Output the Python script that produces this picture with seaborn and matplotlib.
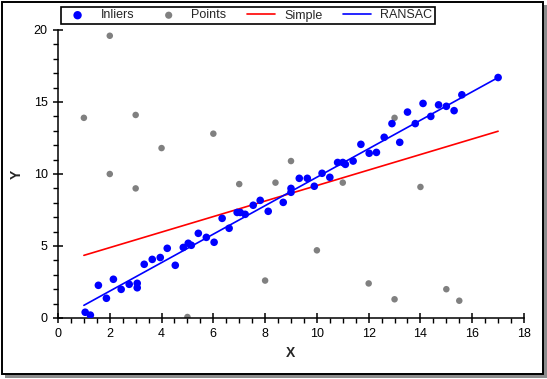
import numpy as np
import pandas as pd
import matplotlib
matplotlib.use("Agg")
import matplotlib.pyplot as plt
from matplotlib.patches import Rectangle
from matplotlib.ticker import MultipleLocator
import seaborn as sns

# data
inlier_x = [1.05, 1.25, 1.56, 1.87, 2.14, 2.44, 2.75, 3.06, 3.06, 3.33, 3.64, 3.95,
            4.22, 4.53, 4.84, 5.03, 5.15, 5.42, 5.73, 6.03, 6.34, 6.61, 6.92, 7.04,
            7.23, 7.54, 7.81, 8.12, 8.7, 9.0, 9.0, 9.32, 9.63, 9.9, 10.2, 10.5,
            10.8, 11.0, 11.1, 11.4, 11.7, 12.02, 12.3, 12.6, 12.9, 13.2, 13.5, 13.8,
            14.1, 14.4, 14.7, 15.0, 15.3, 15.6, 17.0]
inlier_y = [0.4, 0.2, 2.27, 1.37, 2.69, 1.99, 2.34, 2.41, 2.1, 3.73, 4.07, 4.2,
            4.84, 3.66, 4.9, 5.19, 5.05, 5.88, 5.6, 5.26, 6.92, 6.23, 7.33, 7.33,
            7.2, 7.83, 8.17, 7.41, 8.03, 9.0, 8.73, 9.7, 9.7, 9.15, 10.05, 9.77,
            10.8, 10.8, 10.67, 10.9, 12.06, 11.44, 11.5, 12.55, 13.5, 12.2, 14.3, 13.5,
            14.9, 14.0, 14.8, 14.7, 14.4, 15.5, 16.7]
outlier_x = [1, 2, 2, 3, 3, 4, 5, 6, 7, 8, 8.4, 9, 10, 11, 12, 13, 13, 14, 15, 15.5]
outlier_y = [13.9, 19.6, 10.0, 14.1, 9.0, 11.8, 0.07, 12.8, 9.3, 2.6, 9.4, 10.9,
             4.7, 9.4, 2.4, 13.9, 1.3, 9.1, 2.0, 1.2]
line_x = [1, 17]
simple_y = [4.35, 12.97]
ransac_y = [0.88, 16.7]

sns.set_style("ticks")
plt.rcParams["font.family"] = ["Liberation Sans", "DejaVu Sans"]
plt.rcParams["font.size"] = 9

fig = plt.figure(figsize=(5.47, 3.79), dpi=100)
ax = fig.add_axes([58 / 547, 1 - 318 / 379, 466 / 547, 288 / 379])

# outer frame with drop shadow
W, H = 547, 379
fig.patches.append(Rectangle((5 / W, 1 / H), 542 / W, 373 / H, transform=fig.transFigure,
                             facecolor="#8c8c8c", edgecolor="none", zorder=-3))
fig.patches.append(Rectangle((1.5 / W, 5.5 / H), 541 / W, 372 / H, transform=fig.transFigure,
                             facecolor="white", edgecolor="black", linewidth=1.4, zorder=-2))
fig.patch.set_facecolor("white")
ax.set_facecolor("none")

inl = pd.DataFrame({"x": inlier_x, "y": inlier_y})
outl = pd.DataFrame({"x": outlier_x, "y": outlier_y})
lines = pd.DataFrame({"x": line_x, "simple": simple_y, "ransac": ransac_y})

sns.scatterplot(data=outl, x="x", y="y", ax=ax, color="#808080", s=22,
                edgecolor="none", label="Points", zorder=2)
sns.lineplot(data=lines, x="x", y="simple", ax=ax, color="red", linewidth=1.2,
             label="Simple", zorder=3)
sns.lineplot(data=lines, x="x", y="ransac", ax=ax, color="blue", linewidth=1.2,
             label="RANSAC", zorder=4)
sns.scatterplot(data=inl, x="x", y="y", ax=ax, color="blue", s=30,
                edgecolor="none", label="Inliers", zorder=5)

ax.set_xlim(0, 18)
ax.set_ylim(0, 20)
ax.xaxis.set_major_locator(MultipleLocator(2))
ax.xaxis.set_minor_locator(MultipleLocator(0.5))
ax.yaxis.set_major_locator(MultipleLocator(5))
ax.yaxis.set_minor_locator(MultipleLocator(1))
ax.tick_params(which="major", direction="inout", length=7, width=1.1, colors="black",
               labelsize=9, pad=4)
ax.tick_params(which="minor", direction="out", length=3.5, width=1.0, colors="black")
for s in ["top", "right"]:
    ax.spines[s].set_visible(False)
for s in ["left", "bottom"]:
    ax.spines[s].set_linewidth(1.1)
    ax.spines[s].set_color("black")
ax.set_xlabel("X", fontweight="bold", fontsize=10, labelpad=4)
ax.set_ylabel("Y", fontweight="bold", fontsize=10, labelpad=7, rotation=90)

handles, labels = ax.get_legend_handles_labels()
order = [labels.index(k) for k in ["Inliers", "Points", "Simple", "RANSAC"]]
ax.get_legend().remove()
leg = fig.legend([handles[i] for i in order], [labels[i] for i in order],
                 loc="upper left", bbox_to_anchor=(61 / W, 1 - 7 / H),
                 ncol=4, frameon=True, fancybox=False, framealpha=1,
                 edgecolor="black", fontsize=9, borderpad=0.2, handlelength=2.25,
                 handletextpad=0.7, borderaxespad=0, columnspacing=1.65,
                 markerscale=1.1)
leg.get_frame().set_linewidth(1.2)

fig.savefig("out.png", dpi=100)
